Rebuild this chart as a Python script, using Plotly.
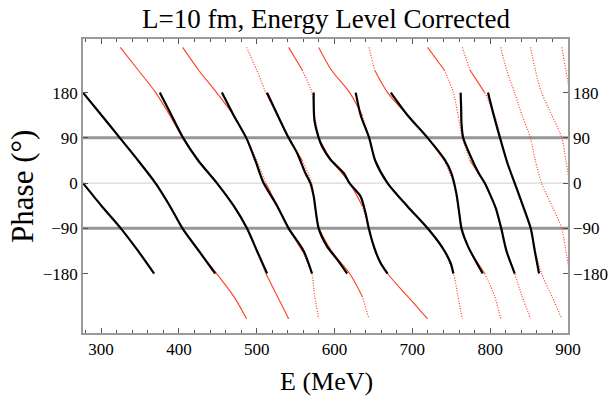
import plotly.graph_objects as go

# ---- red family: one unwrapped phase branch, shown modulo 180 deg
red_E = [276.8, 300.6, 324.7, 347.6, 370.3, 388.2, 404.9, 425.2, 448.5, 470.3,
         487.0, 500.0, 511.7, 526.5, 541.1, 558.5, 570.9, 574.5, 579.7, 596.0,
         619.5, 635.5, 644.3, 651.5, 668.2, 693.7, 719.6, 741.0, 752.8, 758.7,
         764.2, 774.0, 793.0, 805.7, 813.6, 821.2, 831.4, 841.0, 851.8, 858.0,
         866.0, 879.2, 892.0, 897.2, 902.3]
red_phase = [180, 135, 90, 45, 0, -45, -90, -135, -180, -225,
             -270, -315, -360, -405, -450, -495, -540, -585, -630, -675,
             -720, -765, -810, -855, -900, -945, -990, -1035, -1080, -1125,
             -1170, -1215, -1260, -1305, -1350, -1395, -1440, -1485, -1530, -1575,
             -1620, -1665, -1710, -1755, -1800]
red_shifts = [0, 180, 360, 540, 720, 900, 1080, 1260, 1440, 1620, 1800, 1980]
red_limit = 270
steep_slope = 3.4   # deg/MeV above which the sampled red curve looks dotted

# ---- black (energy-level corrected) segments
black_segments = [
    ([276.8, 300.6, 324.1, 347.6, 369.9, 388.2, 404.6, 425.7, 446.7],
     [180, 135, 90, 45, 0, -45, -90, -135, -180]),
    ([276.8, 300.4, 325.4, 347.6, 368.2],
     [0, -45, -90, -135, -180]),
    ([375.5, 390.5, 405.5, 424.8, 448.9, 470.3, 487.5, 500.4, 513.3],
     [180, 135, 90, 45, 0, -45, -90, -135, -180]),
    ([455.3, 470.3, 486.6, 498.2, 508.9, 526.1, 541.0, 560.3, 571.1],
     [180, 135, 90, 45, 0, -45, -90, -135, -180]),
    ([513.3, 526.9, 541.0, 551.9, 562.5, 569.0, 573.2, 579.6, 590.4, 603.3, 616.2],
     [180, 135, 90, 60, 20, 0, -26, -90, -126, -152, -180]),
    ([573.2, 574.1, 579.7, 584.0, 594.7, 611.8, 619.2, 633.3, 639.8, 644.0, 650.5, 659.1, 668.1],
     [180, 126, 90, 73, 47, 20, 0, -26, -59, -90, -126, -159, -180]),
    ([627.2, 633.6, 644.5, 652.2, 668.1, 693.5, 719.6, 737.6, 749.2, 752.7],
     [180, 135, 90, 45, 0, -46, -90, -126, -159, -180]),
    ([672.3, 693.8, 719.6, 741.4, 750.1, 756.5, 760.8, 763.0, 771.5, 790.4],
     [180, 135, 90, 47, 20, -20, -66, -90, -126, -180]),
    ([762.0, 762.7, 763.1, 765.3, 774.9, 785.2, 793.0, 800.8, 807.2, 814.2, 820.9, 831.6],
     [180, 150, 120, 90, 53, 20, 0, -26, -50, -90, -135, -180]),
    ([797.2, 804.9, 812.6, 822.1, 831.5, 839.3, 852.1, 857.3, 862.8],
     [180, 133, 90, 40, 0, -33, -90, -135, -180]),
]

x_ticks = [300, 400, 500, 600, 700, 800, 900]
y_ticks = [-180, -90, 0, 90, 180]
y_ticktext = ["\u2212180", "\u221290", "0", "90", "180"]
x_range = [276.8, 900]
y_range = [-298.3, 286.7]

RED = "rgb(255,62,30)"
FONT = "Liberation Serif"

fig = go.Figure()


def add_red_piece(xs, ys, steep):
    if len(xs) < 2:
        return
    fig.add_trace(go.Scatter(
        x=xs, y=ys, mode="lines",
        line=dict(color=RED, width=1.2 if steep else 1.1, shape="spline", smoothing=0.8,
                  dash="1px,1.6px" if steep else "solid"),
        showlegend=False, hoverinfo="skip"))


for s in red_shifts:
    pts = [(e, p + s) for e, p in zip(red_E, red_phase) if -red_limit <= p + s <= red_limit]
    if len(pts) < 2:
        continue
    cur_x, cur_y, cur_style = [pts[0][0]], [pts[0][1]], None
    for (e0, v0), (e1, v1) in zip(pts[:-1], pts[1:]):
        steep = abs(v1 - v0) / max(e1 - e0, 1e-6) > steep_slope
        if cur_style is None or steep == cur_style:
            cur_x.append(e1)
            cur_y.append(v1)
            cur_style = steep
        else:
            add_red_piece(cur_x, cur_y, cur_style)
            cur_x, cur_y, cur_style = [e0, e1], [v0, v1], steep
    add_red_piece(cur_x, cur_y, cur_style)

for es, ps in black_segments:
    fig.add_trace(go.Scatter(x=es, y=ps, mode="lines",
                             line=dict(color="black", width=2.2, shape="spline", smoothing=0.7),
                             showlegend=False, hoverinfo="skip"))

# dummy trace for right axis
fig.add_trace(go.Scatter(x=[None], y=[None], yaxis="y2", showlegend=False, hoverinfo="skip"))

# horizontal reference lines
for yv, w, c in [(90, 3, "rgb(150,150,150)"), (-90, 3, "rgb(150,150,150)"), (0, 1, "rgb(205,205,205)")]:
    fig.add_shape(type="line", xref="paper", x0=0, x1=1, yref="y", y0=yv, y1=yv,
                  line=dict(color=c, width=w), layer="below")

axis_common = dict(showgrid=False, zeroline=False, ticks="inside", tickcolor="#555",
                   automargin=False,
                   tickfont=dict(family=FONT, size=17, color="black"))

fig.update_layout(
    width=608, height=397,
    margin=dict(l=83, r=40, t=39, b=64, autoexpand=False),
    font=dict(family=FONT, color="black"),
    paper_bgcolor="white", plot_bgcolor="white",
    title=dict(text="L=10 fm, Energy Level Corrected", x=326 / 608, xanchor="center",
               y=1 - 19 / 397, yanchor="middle", automargin=False,
               font=dict(family=FONT, size=27, color="black")),
    xaxis=dict(range=x_range, tickvals=x_ticks, showline=True, linecolor="#9a9a9a", linewidth=1.5,
               mirror="ticks", ticklen=5,
               minor=dict(ticks="inside", dtick=20, tick0=0, ticklen=3, tickcolor="#555"),
               **axis_common),
    yaxis=dict(range=y_range, tickvals=y_ticks, ticktext=y_ticktext, showline=True,
               linecolor="#9a9a9a", linewidth=1.5, mirror=True, ticklen=5,
               **axis_common),
    yaxis2=dict(range=y_range, tickvals=y_ticks, ticktext=y_ticktext, overlaying="y", side="right",
                showline=False, ticklen=5, ticklabelstandoff=4, **axis_common),
    annotations=[
        dict(text="E (MeV)", xref="paper", yref="paper", x=(326 - 83) / 485, y=-(381 - 333) / 294,
             xanchor="center", yanchor="middle", showarrow=False,
             font=dict(family=FONT, size=26, color="black")),
        dict(text="Phase (\u00b0)", xref="paper", yref="paper", x=-(83 - 23) / 485, y=0.497,
             xanchor="center", yanchor="middle", textangle=-90, showarrow=False,
             font=dict(family=FONT, size=31, color="black")),
    ],
)

fig.write_html("out.html", config={"displayModeBar": False},
               post_script="document.body.style.margin='0';document.body.style.overflow='hidden';")
